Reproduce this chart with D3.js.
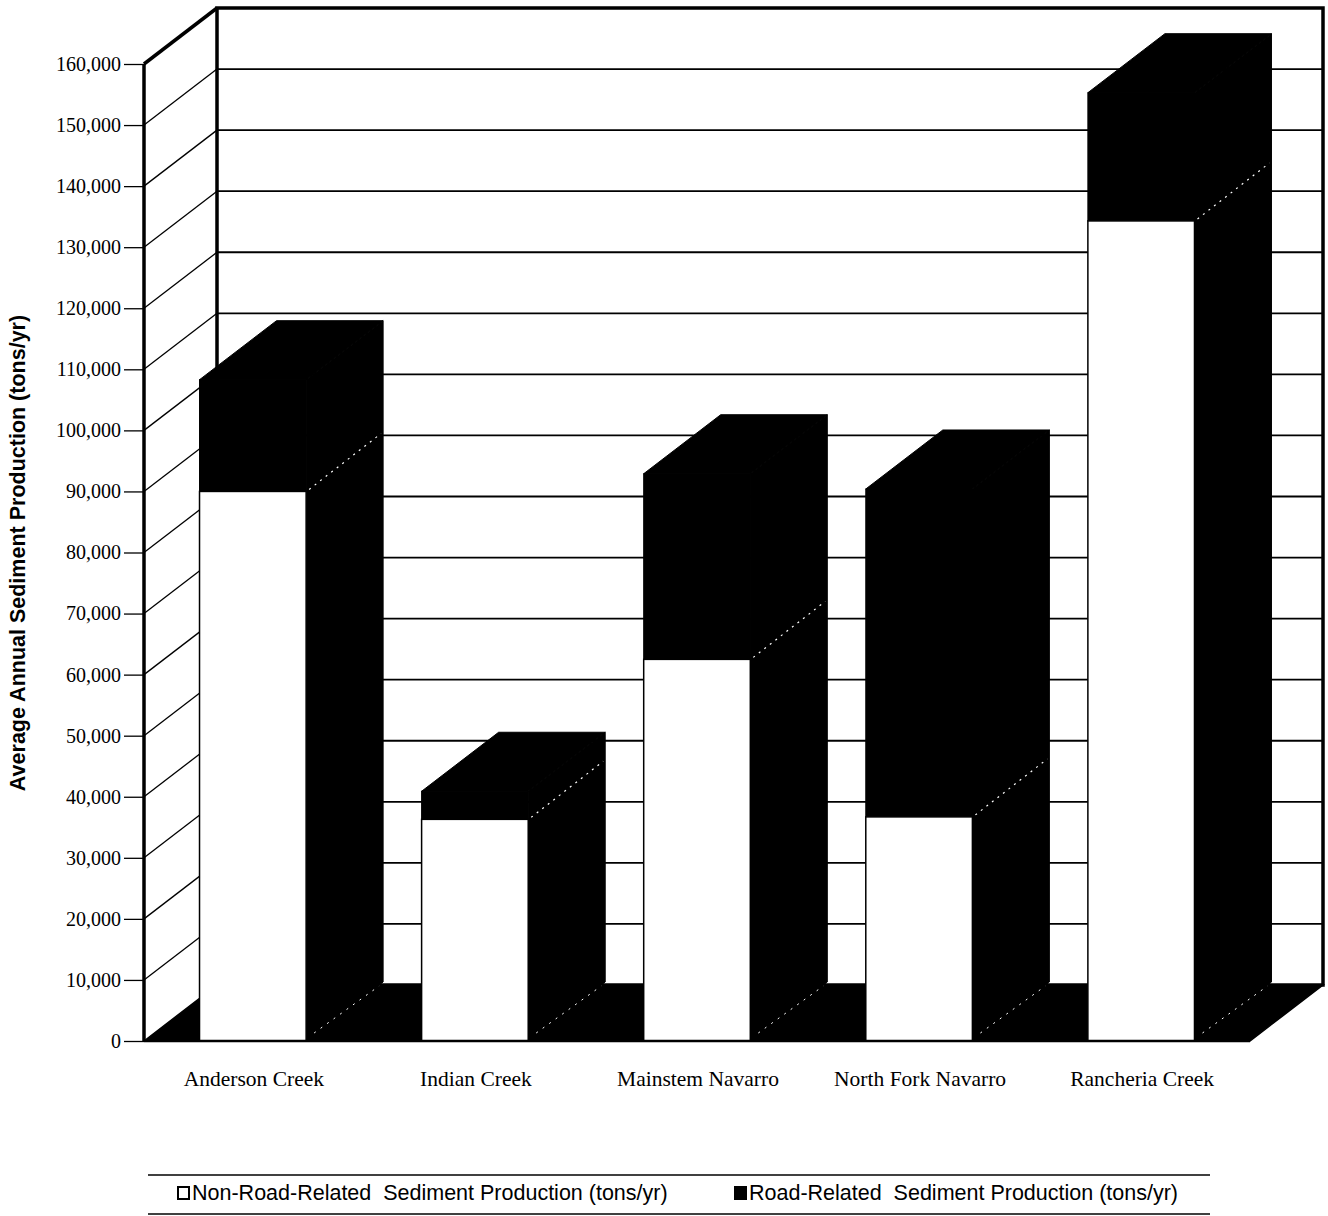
<!DOCTYPE html>
<html>
<head>
<meta charset="utf-8">
<script src="https://cdn.jsdelivr.net/npm/d3@7"></script>
<style>
  body { margin: 0; background: #fff; }
  svg { display: block; }
</style>
</head>
<body>
<div id="sediment_chart"></div>
<script>
// Chart values
var categories = ["Anderson Creek", "Indian Creek", "Mainstem Navarro", "North Fork Navarro", "Rancheria Creek"];
var non_road   = [90000, 36300, 62500, 36700, 134300];
var road       = [18300, 4600, 30400, 53700, 21000];
var tick_values = [0, 10000, 20000, 30000, 40000, 50000, 60000, 70000, 80000, 90000,
                   100000, 110000, 120000, 130000, 140000, 150000, 160000];
var series_labels = ["Non-Road-Related  Sediment Production (tons/yr)",
                     "Road-Related  Sediment Production (tons/yr)"];
var y_title = "Average Annual Sediment Production (tons/yr)";

var width = 1328, height = 1216;

// front plane of the 3d box
var plot = {left: 144, right: 1250, top: 64, bottom: 1041};
// depth offset of back wall and of bars
var wall_dx = 73, wall_dy = 56,
    bar_dx  = 77, bar_dy  = 59;

var svg = d3.select("#sediment_chart")
  .append("svg")
    .attr("width", width)
    .attr("height", height);

var x = d3.scaleBand()
  .domain(categories)
  .range([plot.left, plot.right])
  .paddingInner(0.52)
  .paddingOuter(0.25);

var y = d3.scaleLinear()
  .domain([0, 160000])
  .range([plot.bottom, plot.top]);

function pts(a) { return a.map(function(p) { return p.join(","); }).join(" "); }

// back wall
svg.append("rect")
  .attr("x", plot.left + wall_dx)
  .attr("y", y(160000) - wall_dy)
  .attr("width", plot.right - plot.left)
  .attr("height", y(0) - y(160000))
  .style("fill", "#fff")
  .style("stroke", "#000")
  .style("stroke-width", 3.5);

// gridlines: slanted on the left wall, flat on the back wall
var grid = svg.append("g").attr("class", "grid");
grid.selectAll("line.back")
  .data(tick_values.slice(1, -1))
  .enter()
  .append("line")
    .attr("class", "back")
    .attr("x1", plot.left + wall_dx)
    .attr("x2", plot.right + wall_dx)
    .attr("y1", function(d) { return y(d) - wall_dy; })
    .attr("y2", function(d) { return y(d) - wall_dy; })
    .style("stroke", "#000")
    .style("stroke-width", 1.8);
grid.selectAll("line.side")
  .data(tick_values.slice(1))
  .enter()
  .append("line")
    .attr("class", "side")
    .attr("x1", plot.left)
    .attr("x2", plot.left + wall_dx)
    .attr("y1", function(d) { return y(d); })
    .attr("y2", function(d) { return y(d) - wall_dy; })
    .style("stroke", "#000")
    .style("stroke-width", function(d) { return d == 160000 ? 3.5 : 1.3; });

// floor
svg.append("polygon")
  .attr("points", pts([[plot.left, y(0)], [plot.left + wall_dx, y(0) - wall_dy],
                       [plot.right + wall_dx, y(0) - wall_dy], [plot.right, y(0)]]))
  .style("fill", "#000")
  .style("stroke", "#000")
  .style("stroke-width", 1.5);

// front vertical axis line
svg.append("line")
  .attr("x1", plot.left).attr("x2", plot.left)
  .attr("y1", y(160000)).attr("y2", y(0))
  .style("stroke", "#000")
  .style("stroke-width", 3.5);

// bars
var bars = svg.append("g").attr("class", "bars")
  .selectAll("g")
  .data(categories.map(function(c, i) { return {cat: c, low: non_road[i], high: non_road[i] + road[i]}; }))
  .enter()
  .append("g");

bars.each(function(d) {
  var g  = d3.select(this),
      x0 = x(d.cat),
      x1 = x(d.cat) + x.bandwidth(),
      y0 = y(0), ym = y(d.low), yt = y(d.high);

  // side face
  g.append("polygon")
    .attr("points", pts([[x1, y0], [x1 + bar_dx, y0 - bar_dy], [x1 + bar_dx, yt - bar_dy], [x1, yt]]))
    .style("fill", "#000").style("stroke", "#000");
  // top face
  g.append("polygon")
    .attr("points", pts([[x0, yt], [x0 + bar_dx, yt - bar_dy], [x1 + bar_dx, yt - bar_dy], [x1, yt]]))
    .style("fill", "#000").style("stroke", "#000");
  // front: road-related segment
  g.append("rect")
    .attr("x", x0).attr("y", yt)
    .attr("width", x1 - x0).attr("height", ym - yt)
    .style("fill", "#000").style("stroke", "#000");
  // front: non-road segment
  g.append("rect")
    .attr("x", x0).attr("y", ym)
    .attr("width", x1 - x0).attr("height", y0 - ym)
    .style("fill", "#fff").style("stroke", "#000").style("stroke-width", 1.5);
  // faint edges left on the dark side face
  g.append("line")
    .attr("x1", x1 + 3).attr("y1", ym - 2)
    .attr("x2", x1 + bar_dx - 2).attr("y2", ym - bar_dy + 1)
    .style("stroke", "#fff").style("stroke-width", 1.2)
    .style("stroke-dasharray", "2,5");
  g.append("line")
    .attr("x1", x1 + 8).attr("y1", y0 - 8)
    .attr("x2", x1 + bar_dx - 4).attr("y2", y0 - bar_dy + 4)
    .style("stroke", "#fff").style("stroke-width", 1)
    .style("stroke-dasharray", "2,6");
});

// front baseline
svg.append("line")
  .attr("x1", plot.left).attr("x2", plot.right)
  .attr("y1", y(0)).attr("y2", y(0))
  .style("stroke", "#000")
  .style("stroke-width", 2.5);

// y axis ticks and labels
var y_axis = d3.axisLeft(y)
  .tickValues(tick_values)
  .tickFormat(d3.format(","))
  .tickSize(20)
  .tickPadding(3);

svg.append("g")
  .attr("transform", "translate(" + plot.left + ",0)")
  .call(y_axis)
  .call(function(g) { g.select(".domain").remove(); })
  .call(function(g) {
    g.selectAll(".tick line").style("stroke", "#000").style("stroke-width", 1.3);
    g.selectAll(".tick text")
      .style("font-family", "'Liberation Serif', 'Times New Roman', serif")
      .style("font-size", "20px")
      .style("fill", "#000");
  });

// y axis title
svg.append("text")
  .attr("transform", "translate(25," + 553 + ") rotate(-90)")
  .attr("text-anchor", "middle")
  .style("font-family", "'Liberation Sans', Arial, sans-serif")
  .style("font-weight", "bold")
  .style("font-size", "21.5px")
  .text(y_title);

// category labels
svg.append("g")
  .selectAll("text")
  .data(categories)
  .enter()
  .append("text")
    .attr("x", function(d) { return x(d) + x.bandwidth() / 2 + 1; })
    .attr("y", 1086)
    .attr("text-anchor", "middle")
    .style("font-family", "'Liberation Serif', 'Times New Roman', serif")
    .style("font-size", "21.5px")
    .text(function(d) { return d; });

// legend box
var legend = svg.append("g").attr("class", "legend");
legend.append("line")
  .attr("x1", 148).attr("x2", 1210).attr("y1", 1175).attr("y2", 1175)
  .style("stroke", "#000").style("stroke-width", 1.5);
legend.append("line")
  .attr("x1", 148).attr("x2", 1210).attr("y1", 1214).attr("y2", 1214)
  .style("stroke", "#000").style("stroke-width", 1.5);

var legend_x = [178, 735];
var legend_item = legend.selectAll("g.item")
  .data(series_labels)
  .enter()
  .append("g")
    .attr("class", "item")
    .attr("transform", function(d, i) { return "translate(" + legend_x[i] + ",1187)"; });

legend_item.append("rect")
  .attr("width", 11).attr("height", 12)
  .style("fill", function(d, i) { return i == 0 ? "#fff" : "#000"; })
  .style("stroke", "#000")
  .style("stroke-width", 2);

legend_item.append("text")
  .attr("x", 14)
  .attr("y", 13)
  .style("font-family", "'Liberation Sans', Arial, sans-serif")
  .style("font-size", "21.5px")
  .style("white-space", "pre")
  .text(function(d) { return d; });
</script>
</body>
</html>
